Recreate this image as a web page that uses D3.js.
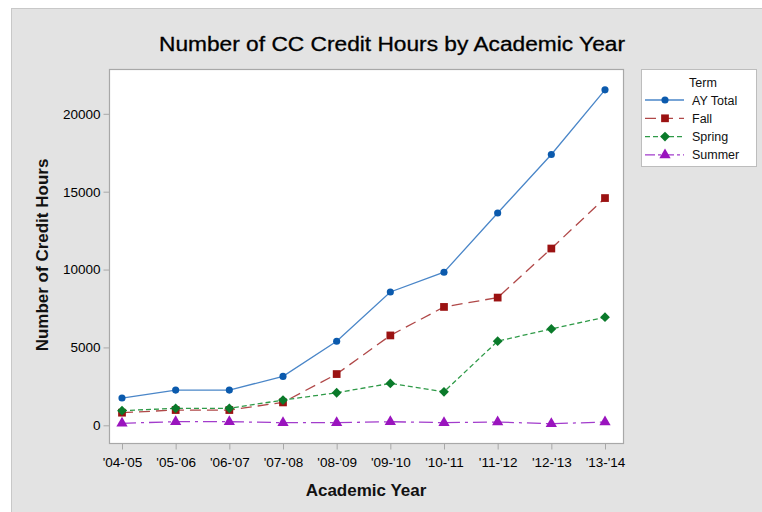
<!DOCTYPE html>
<html><head><meta charset="utf-8">
<script src="https://cdn.jsdelivr.net/npm/d3@7"></script>
<style>body{margin:0;background:#fff}svg{display:block;font-family:"Liberation Sans",Arial,sans-serif}</style>
</head><body><svg id="c" width="762" height="512"></svg>
<script>
const years = ["'04-'05","'05-'06","'06-'07","'07-'08","'08-'09","'09-'10","'10-'11","'11-'12","'12-'13","'13-'14"];
const ayTotal = [1750,2260,2260,3140,5400,8560,9830,13630,17390,21540];
const fall    = [810,980,980,1470,3290,5770,7600,8200,11350,14590];
const spring  = [940,1090,1090,1620,2090,2690,2150,5400,6190,6940];
const summer  = [130,230,230,170,170,230,170,210,100,210];
const yTicks  = [0,5000,10000,15000,20000];

const series = [
  {name:"AY Total", values:ayTotal, line:"#4a86c8", mark:"#0b5aad", dash:null, shape:d3.symbolCircle, size:40, rot:0},
  {name:"Fall", values:fall, line:"#b04848", mark:"#9b1212", dash:"11,6", shape:d3.symbolSquare, size:60, rot:0},
  {name:"Spring", values:spring, line:"#2f9a48", mark:"#0a7a2a", dash:"5,3", shape:d3.symbolSquare, size:48, rot:45},
  {name:"Summer", values:summer, line:"#a23ccc", mark:"#9a14be", dash:"14,5,3,5", shape:d3.symbolTriangle, size:55, rot:0}
];

const svg = d3.select("#c");
svg.append("rect").attr("x",11.5).attr("y",8.5).attr("width",751).attr("height",504)
  .attr("fill","#e3e3e3").attr("stroke","#c8c8c8");

const L=109.5, R=623.5, T=69.5, B=443.5;
const x = d3.scalePoint().domain(years).range([122,605]);
const y = d3.scaleLinear().domain([0,20000]).range([425.3,113.8]);

svg.append("rect").attr("x",L).attr("y",T).attr("width",R-L).attr("height",B-T)
  .attr("fill","#fff").attr("stroke","#a8a8a8").attr("stroke-width",1.2);

// axes
const xa = svg.append("g").attr("transform",`translate(0,${B})`)
  .call(d3.axisBottom(x).tickSize(6).tickPadding(3));
const ya = svg.append("g").attr("transform",`translate(${L},0)`)
  .call(d3.axisLeft(y).tickValues(yTicks).tickFormat(d3.format("d")).tickSize(6).tickPadding(3));
[xa,ya].forEach(a=>{
  a.select(".domain").remove();
  a.selectAll(".tick line").attr("stroke","#a8a8a8");
  a.selectAll("text").attr("fill","#000").style("font-size","13.5px").style("font-family","Liberation Sans, Arial, sans-serif");
});
xa.selectAll("text").attr("dy","1.05em");

// lines and markers
series.forEach(s=>{
  const line = d3.line().x((d,i)=>x(years[i])).y(d=>y(d));
  svg.append("path").datum(s.values).attr("d",line).attr("fill","none")
    .attr("stroke",s.line).attr("stroke-width",1.3).attr("stroke-dasharray",s.dash);
  svg.append("g").selectAll("path").data(s.values).join("path")
    .attr("transform",(d,i)=>`translate(${x(years[i])},${y(d)}) rotate(${s.rot})`)
    .attr("d",d3.symbol().type(s.shape).size(s.size)).attr("fill",s.mark);
});

// titles
svg.append("text").attr("x",392).attr("y",51).attr("text-anchor","middle")
  .style("font-size","20px").attr("fill","#000").attr("textLength",466).attr("lengthAdjust","spacingAndGlyphs")
  .attr("stroke","#000").attr("stroke-width",0.3)
  .text("Number of CC Credit Hours by Academic Year");
svg.append("text").attr("x",366).attr("y",496).attr("text-anchor","middle")
  .style("font-size","17px").style("font-weight","bold").attr("fill","#111")
  .text("Academic Year");
svg.append("text").attr("transform","translate(48,255) rotate(-90)").attr("text-anchor","middle")
  .style("font-size","17px").style("font-weight","bold").attr("fill","#111")
  .text("Number of Credit Hours");

// legend
const lg = svg.append("g");
lg.append("rect").attr("x",641.5).attr("y",69.5).attr("width",115).attr("height",97)
  .attr("fill","#fff").attr("stroke","#bdbdbd");
lg.append("text").attr("x",703).attr("y",87).attr("text-anchor","middle")
  .style("font-size","12.5px").attr("fill","#111").text("Term");
series.forEach((s,i)=>{
  const cy = 100 + i*18.3;
  lg.append("line").attr("x1",645).attr("x2",684).attr("y1",cy).attr("y2",cy)
    .attr("stroke",s.line).attr("stroke-width",1.3).attr("stroke-dasharray",s.dash ? (i===3?"10,3,3,3":s.dash) : null);
  lg.append("path").attr("transform",`translate(665,${cy}) rotate(${s.rot})`)
    .attr("d",d3.symbol().type(s.shape).size(s.size)).attr("fill",s.mark);
  lg.append("text").attr("x",692).attr("y",cy+4.5).style("font-size","12.5px").attr("fill","#111").text(s.name);
});
</script></body></html>
